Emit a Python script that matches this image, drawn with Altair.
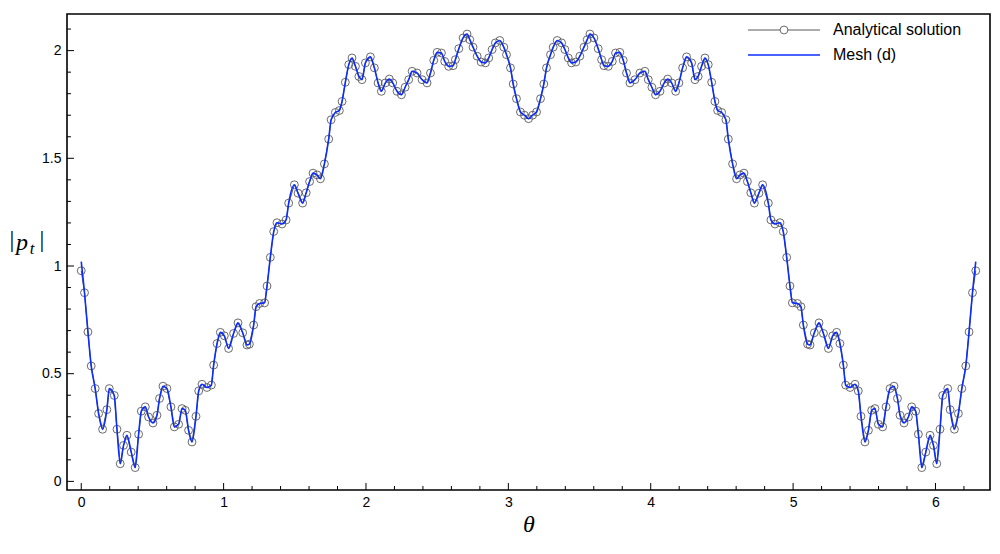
import altair as alt
import pandas as pd

# ---- data ----
theta_left = [0.000, 0.023, 0.047, 0.070, 0.098, 0.122, 0.150, 0.180, 0.197, 0.232,
              0.251, 0.274, 0.297, 0.321, 0.351, 0.379, 0.403, 0.422, 0.450, 0.473,
              0.504, 0.532, 0.550, 0.574, 0.602, 0.630, 0.654, 0.684, 0.708, 0.731,
              0.754, 0.778, 0.806, 0.825, 0.848, 0.883, 0.914, 0.930, 0.954, 0.977,
              1.005, 1.035, 1.070, 1.101, 1.134, 1.164, 1.181, 1.211, 1.228, 1.253,
              1.288, 1.305, 1.328, 1.352, 1.375, 1.410, 1.439, 1.457, 1.497, 1.523,
              1.555, 1.580, 1.604, 1.628, 1.656, 1.680, 1.708, 1.738, 1.755, 1.785,
              1.813, 1.832, 1.855, 1.879, 1.902, 1.926, 1.950, 1.972, 1.996, 2.031,
              2.059, 2.085, 2.108, 2.136, 2.164, 2.188, 2.218, 2.249, 2.275, 2.300,
              2.324, 2.359, 2.394, 2.429, 2.453, 2.476, 2.500, 2.530, 2.553, 2.581,
              2.612, 2.628, 2.652, 2.682, 2.710, 2.729, 2.752, 2.781, 2.809, 2.839,
              2.862, 2.886, 2.909, 2.940, 2.968, 2.987, 3.015, 3.034, 3.057, 3.085,
              3.113, 3.142]
value_left = [0.978, 0.876, 0.694, 0.536, 0.431, 0.315, 0.242, 0.333, 0.431, 0.399,
              0.242, 0.082, 0.167, 0.214, 0.136, 0.064, 0.219, 0.326, 0.346, 0.299,
              0.271, 0.307, 0.385, 0.442, 0.431, 0.346, 0.253, 0.265, 0.338, 0.330,
              0.237, 0.183, 0.302, 0.420, 0.451, 0.436, 0.447, 0.540, 0.640, 0.692,
              0.676, 0.617, 0.687, 0.736, 0.690, 0.633, 0.637, 0.726, 0.811, 0.826,
              0.829, 0.907, 1.040, 1.160, 1.201, 1.195, 1.214, 1.292, 1.377, 1.338,
              1.292, 1.340, 1.392, 1.431, 1.423, 1.405, 1.474, 1.589, 1.679, 1.713,
              1.722, 1.764, 1.853, 1.935, 1.966, 1.927, 1.880, 1.865, 1.943, 1.971,
              1.920, 1.850, 1.811, 1.850, 1.868, 1.850, 1.811, 1.795, 1.830, 1.865,
              1.904, 1.896, 1.865, 1.850, 1.896, 1.955, 1.992, 1.989, 1.950, 1.927,
              1.930, 1.958, 2.009, 2.059, 2.077, 2.051, 2.016, 1.974, 1.947, 1.943,
              1.966, 2.005, 2.036, 2.047, 2.016, 1.981, 1.920, 1.845, 1.777, 1.715,
              1.700, 1.684]
theta_right = [3.170, 3.198, 3.226, 3.249, 3.268, 3.296, 3.315, 3.343, 3.374, 3.397,
               3.421, 3.444, 3.474, 3.502, 3.531, 3.554, 3.573, 3.601, 3.631, 3.655,
               3.671, 3.702, 3.730, 3.753, 3.783, 3.807, 3.830, 3.854, 3.889, 3.924,
               3.959, 3.983, 4.008, 4.034, 4.065, 4.095, 4.119, 4.147, 4.175, 4.198,
               4.224, 4.252, 4.287, 4.311, 4.333, 4.357, 4.381, 4.404, 4.428, 4.451,
               4.470, 4.498, 4.528, 4.545, 4.575, 4.603, 4.627, 4.655, 4.679, 4.703,
               4.728, 4.760, 4.786, 4.826, 4.844, 4.873, 4.908, 4.931, 4.955, 4.978,
               4.995, 5.030, 5.055, 5.072, 5.102, 5.119, 5.149, 5.182, 5.213, 5.248,
               5.278, 5.306, 5.329, 5.353, 5.369, 5.400, 5.435, 5.458, 5.477, 5.505,
               5.529, 5.552, 5.575, 5.599, 5.629, 5.653, 5.681, 5.709, 5.733, 5.751,
               5.779, 5.810, 5.833, 5.861, 5.880, 5.904, 5.932, 5.962, 5.986, 6.009,
               6.032, 6.051, 6.086, 6.103, 6.133, 6.161, 6.185, 6.213, 6.236, 6.260,
               6.283]
value_right = [1.700, 1.715, 1.777, 1.845, 1.920, 1.981, 2.016, 2.047, 2.036, 2.005,
               1.966, 1.943, 1.947, 1.974, 2.016, 2.051, 2.077, 2.059, 2.009, 1.958,
               1.930, 1.927, 1.950, 1.989, 1.992, 1.955, 1.896, 1.850, 1.865, 1.896,
               1.904, 1.865, 1.830, 1.795, 1.811, 1.850, 1.868, 1.850, 1.811, 1.850,
               1.920, 1.971, 1.943, 1.865, 1.880, 1.927, 1.966, 1.935, 1.853, 1.764,
               1.722, 1.713, 1.679, 1.589, 1.474, 1.405, 1.423, 1.431, 1.392, 1.340,
               1.292, 1.338, 1.377, 1.292, 1.214, 1.195, 1.201, 1.160, 1.040, 0.907,
               0.829, 0.826, 0.811, 0.726, 0.637, 0.633, 0.690, 0.736, 0.687, 0.617,
               0.676, 0.692, 0.640, 0.540, 0.447, 0.436, 0.451, 0.420, 0.302, 0.183,
               0.237, 0.330, 0.338, 0.265, 0.253, 0.346, 0.431, 0.442, 0.385, 0.307,
               0.271, 0.299, 0.346, 0.326, 0.219, 0.064, 0.136, 0.214, 0.167, 0.082,
               0.242, 0.399, 0.431, 0.333, 0.242, 0.315, 0.431, 0.536, 0.694, 0.876,
               0.978]
mesh_start = 1.02
mesh_end = 1.02

x_major = [0, 1, 2, 3, 4, 5, 6]
x_minor = [0.2, 0.4, 0.6, 0.8, 1.2, 1.4, 1.6, 1.8, 2.2, 2.4, 2.6, 2.8, 3.2, 3.4,
           3.6, 3.8, 4.2, 4.4, 4.6, 4.8, 5.2, 5.4, 5.6, 5.8, 6.2]
y_major = [0, 0.5, 1, 1.5, 2]
y_minor = [0.1, 0.2, 0.3, 0.4, 0.6, 0.7, 0.8, 0.9, 1.1, 1.2, 1.3, 1.4, 1.6, 1.7,
           1.8, 1.9, 2.1]

theta = theta_left + theta_right
values = value_left + value_right
ana = pd.DataFrame({"theta": theta, "p": values})
mesh = pd.DataFrame({"theta": theta, "p": [mesh_start] + values[1:-1] + [mesh_end]})
one = pd.DataFrame({"theta": [0.0], "p": [0.0]})

W, H = 923, 476
xs = alt.Scale(domain=[-0.1, 6.383], nice=False, zero=False)
ys = alt.Scale(domain=[-0.04, 2.17], nice=False, zero=False)

x_axis = alt.Axis(values=x_major, ticks=False, domain=False, grid=False, format="~g",
                  labelFontSize=14, labelFont="Liberation Sans", labelColor="black",
                  labelPadding=5, title="θ", titleFont="Liberation Serif",
                  titleFontStyle="italic", titleFontWeight="normal", titleFontSize=24,
                  titleColor="black", titlePadding=3)
y_axis = alt.Axis(values=y_major, ticks=False, domain=False, grid=False, format="~g",
                  labelFontSize=14, labelFont="Liberation Sans", labelColor="black",
                  labelPadding=6, title=None)

X = alt.X("theta:Q", scale=xs, axis=x_axis)
Y = alt.Y("p:Q", scale=ys, axis=y_axis)

gray = "#5a5a5a"
blue = "#0b2dff"
line_ana = alt.Chart(ana).mark_line(color=gray, strokeWidth=1).encode(x=X, y=Y)
pts_ana = alt.Chart(ana).mark_point(shape="circle", filled=False, size=62,
                                    color=gray, strokeWidth=0.9, opacity=1).encode(x=X, y=Y)
line_mesh = alt.Chart(mesh).mark_line(color=blue, strokeWidth=1.6,
                                      interpolate="monotone").encode(x=X, y=Y)


def xticks(vals, length):
    d = pd.DataFrame({"theta": vals})
    return alt.Chart(d).mark_rule(color="black", strokeWidth=1).encode(
        x=X, y=alt.value(H), y2=alt.value(H - length))


def yticks(vals, length):
    d = pd.DataFrame({"p": vals})
    return alt.Chart(d).mark_rule(color="black", strokeWidth=1).encode(
        y=Y, x=alt.value(0), x2=alt.value(length))


# legend
leg_line1 = alt.Chart(one).mark_rule(color=gray, strokeWidth=1).encode(
    x=alt.value(681), x2=alt.value(753), y=alt.value(16))
leg_pt1 = alt.Chart(one).mark_point(shape="circle", filled=False, size=62, color=gray,
                                    strokeWidth=0.9, opacity=1, fill="white").encode(
    x=alt.value(717), y=alt.value(16))
leg_txt1 = alt.Chart(one).mark_text(text="Analytical solution", align="left", baseline="middle",
                                    font="Liberation Sans", fontSize=16, color="black").encode(
    x=alt.value(766), y=alt.value(16))
leg_line2 = alt.Chart(one).mark_rule(color=blue, strokeWidth=1.6).encode(
    x=alt.value(681), x2=alt.value(753), y=alt.value(41))
leg_txt2 = alt.Chart(one).mark_text(text="Mesh (d)", align="left", baseline="middle",
                                    font="Liberation Sans", fontSize=16, color="black").encode(
    x=alt.value(766), y=alt.value(41))


def ytxt(t, x, y, size, style="normal", font="Liberation Serif"):
    return alt.Chart(one).mark_text(text=t, align="center", baseline="middle", font=font,
                                    fontSize=size, fontStyle=style, color="black").encode(
        x=alt.value(x), y=alt.value(y))


ytitle = [
    ytxt("|", -55, 226, 24),
    ytxt("p", -45, 229, 24, "italic"),
    ytxt("t", -35, 235, 17, "italic"),
    ytxt("|", -25, 226, 24),
]

chart = alt.layer(
    line_ana, pts_ana, line_mesh,
    xticks(x_major, 7), xticks(x_minor, 4), yticks(y_major, 7), yticks(y_minor, 4),
    leg_line1, leg_pt1, leg_txt1, leg_line2, leg_txt2, *ytitle,
).properties(
    width=W, height=H,
    padding={"left": 67, "top": 14, "right": 10, "bottom": 64},
    autosize=alt.AutoSizeParams(type="none"),
    background="white",
).configure_view(stroke="black", strokeWidth=1.6)

chart.save("out.html", embed_options={"renderer": "svg", "actions": False})
